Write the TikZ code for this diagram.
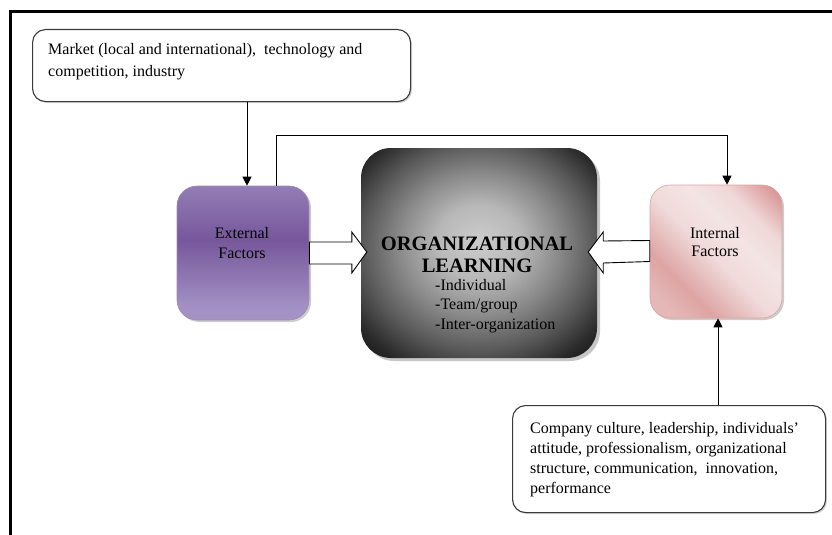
\documentclass[tikz,border=0pt]{standalone}
\usepackage{fontspec}
\setmainfont{Liberation Serif}
\usetikzlibrary{shadows,calc,arrows.meta}

\definecolor{extlight}{HTML}{AB9BCB}
\definecolor{extdark}{HTML}{76579B}
\definecolor{pinkdark}{HTML}{D68C8C}
\definecolor{pinkmid}{HTML}{DEA4A4}
\definecolor{pinklight}{HTML}{F4E4E4}
\definecolor{framegray}{HTML}{3A3A3A}

\pgfdeclareverticalshading{extshade}{100bp}{%
  color(0bp)=(extlight!90!black); color(8bp)=(extlight); color(30bp)=(extlight!85!extdark);
  color(55bp)=(extdark); color(80bp)=(extlight!70!extdark); color(100bp)=(extlight)}
\pgfdeclareverticalshading{intshade}{100bp}{%
  color(0bp)=(pinkmid!70!pinklight); color(22bp)=(pinkmid!70!pinklight); color(32bp)=(pinkmid);
  color(48bp)=(pinklight!85!pinkmid); color(60bp)=(pinklight); color(70bp)=(pinklight!80!pinkmid);
  color(84bp)=(pinkdark); color(100bp)=(pinkdark)}
\pgfdeclareradialshading{orgshade}{\pgfpoint{0bp}{3bp}}{%
  color(0bp)=(black!20); color(9bp)=(black!28); color(17bp)=(black!46);
  color(25bp)=(black!66); color(31bp)=(black!83); color(37bp)=(black!95); color(43bp)=(black);
  color(50bp)=(black)}

\tikzset{
  txt/.style={inner sep=0pt, font=\fontsize{16}{22}\selectfont},
  textbox/.style={draw=framegray, line width=1.1pt, rounded corners=13pt, fill=white,
    drop shadow={shadow xshift=1.5pt, shadow yshift=-1.5pt, opacity=0.35}},
  factorbox/.style={rounded corners=20pt, minimum width=132pt, inner sep=0pt,
    drop shadow={shadow xshift=2pt, shadow yshift=-2pt, opacity=0.4}},
  arr/.style={line width=1pt, -{Triangle[width=9pt,length=9pt]}},
  blockarrow/.style={draw=black, line width=0.9pt, fill=white, line join=miter}
}

\begin{document}
\begin{tikzpicture}[x=1pt,y=-1pt]
\useasboundingbox (0,0) rectangle (832,535);
\draw[line width=3pt] (10,535) -- (10,11.5) -- (832,11.5);

% boxes
\node[textbox, minimum width=378pt, minimum height=72pt, anchor=north west] (market) at (32,29) {};
\node[txt, anchor=base west] (markettext) at (48,55)
  {\begin{tabular}[t]{@{}l@{}}Market (local and international),\ \ technology and\\ competition, industry\end{tabular}};

\node[textbox, minimum width=313pt, minimum height=107pt, anchor=north west] (culture) at (512,405) {};
\node[txt, font=\fontsize{16}{20.2}\selectfont, anchor=base west] (culturetext) at (530,433)
  {\begin{tabular}[t]{@{}l@{}}Company culture, leadership, individuals'\\ attitude, professionalism, organizational\\ structure, communication,\ \ innovation,\\ performance\end{tabular}};

\node[factorbox, minimum height=134pt, shading=extshade, draw=extdark!70, line width=0.6pt] (ext) at (243,253) {};
\node[txt, anchor=base, font=\fontsize{16}{20}\selectfont] (exttext) at (242,238)
  {\begin{tabular}[t]{@{}c@{}}External\\ Factors\end{tabular}};

\node[factorbox, minimum height=133pt, shading=intshade, shading angle=-45, draw=pinkdark!80, line width=0.6pt] (int) at (716,251.5) {};
\node[txt, anchor=base, font=\fontsize{16}{18.5}\selectfont] (inttext) at (715,238)
  {\begin{tabular}[t]{@{}c@{}}Internal\\ Factors\end{tabular}};

\node[rounded corners=30pt, minimum width=236pt, minimum height=210pt, inner sep=0pt,
  shading=orgshade, drop shadow={shadow xshift=3pt, shadow yshift=-3pt, opacity=0.45}] (org) at (479,253) {};
\node[txt, anchor=base, font=\fontsize{20.5}{22}\bfseries] (orgtitle) at (477,250)
  {\begin{tabular}[t]{@{}c@{}}ORGANIZATIONAL\\ LEARNING\end{tabular}};
\node[txt, anchor=base west, font=\fontsize{16}{19.5}\selectfont] (orglist) at (435,290)
  {\begin{tabular}[t]{@{}l@{}}-Individual\\ -Team/group\\ -Inter-organization\end{tabular}};

% connectors
\draw[arr] ([xshift=4pt]ext.north |- market.south) -- ([xshift=4pt]ext.north);
\draw[arr] ([xshift=33pt]ext.north) -- ++(0,-50) -| ([xshift=11pt]int.north);
\draw[arr] ([xshift=2pt]int.south |- culture.north) -- ([xshift=2pt]int.south);

% block arrows
\draw[blockarrow] ([yshift=11pt]ext.east) -- ([xshift=-9pt,yshift=11pt]org.west)
  -- ([xshift=-9pt,yshift=21pt]org.west) -- ([xshift=6pt,yshift=1pt]org.west)
  -- ([xshift=-9pt,yshift=-20pt]org.west) -- ([xshift=-9pt,yshift=-11pt]org.west)
  -- ([yshift=-11pt]ext.east) -- cycle;
\draw[blockarrow] ([yshift=11pt]int.west) -- ([xshift=6pt,yshift=12pt]org.east)
  -- ([xshift=6pt,yshift=21pt]org.east) -- ([xshift=-9pt,yshift=1pt]org.east)
  -- ([xshift=6pt,yshift=-20pt]org.east) -- ([xshift=6pt,yshift=-10pt]org.east)
  -- ([yshift=-10pt]int.west) -- cycle;
\end{tikzpicture}
\end{document}
